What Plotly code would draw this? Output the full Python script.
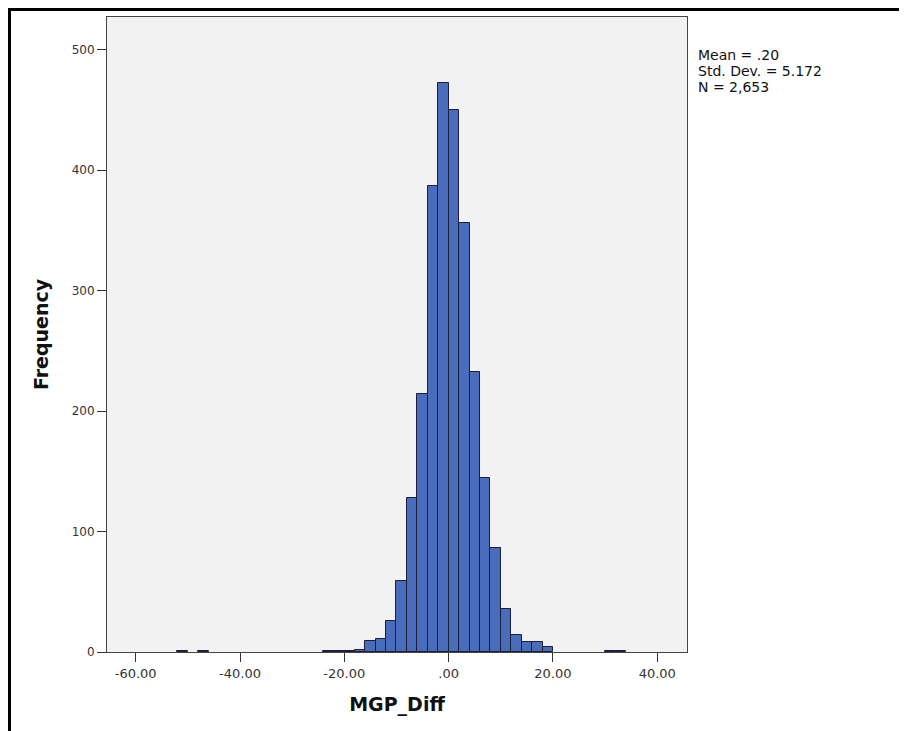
import plotly.graph_objects as go

# Histogram of MGP_Diff, bin width 2 (bin left edges)
bin_left = [-52, -48, -24, -22, -20, -18, -16, -14, -12, -10, -8, -6, -4, -2,
            0, 2, 4, 6, 8, 10, 12, 14, 16, 18, 30, 32]
counts = [1, 1, 1, 1, 1, 2, 9, 11, 26, 59, 128, 214, 387, 472,
          450, 356, 232, 144, 86, 36, 14, 8, 8, 4, 1, 1]
bin_width = 2
x_ticks = [-60, -40, -20, 0, 20, 40]
x_tick_labels = ["-60.00", "-40.00", "-20.00", ".00", "20.00", "40.00"]
y_ticks = [0, 100, 200, 300, 400, 500]
stats_lines = ["Mean = .20", "Std. Dev. = 5.172", "N = 2,653"]

centers = [b + bin_width / 2 for b in bin_left]

fig = go.Figure()
fig.add_trace(go.Bar(
    x=centers, y=counts, width=bin_width,
    marker=dict(color="#4a6cbc", line=dict(color="#1c1f33", width=1)),
    hoverinfo="x+y",
))

# page body has an 8px margin, so the figure is drawn at (8, 8)
W, H = 899, 723
L, T = 99, 9
pw, ph = 580, 635
R, B = W - L - pw, H - T - ph

annotations = []
for i, line in enumerate(stats_lines):
    annotations.append(dict(
        text=line, xref="paper", yref="paper",
        x=(688 - L) / pw, y=1 - (47 + 16 * i - T) / ph,
        xanchor="left", yanchor="middle", align="left", showarrow=False,
        font=dict(family="DejaVu Sans", size=14, color="#111"),
    ))

fig.update_layout(
    width=W, height=H,
    margin=dict(l=L, r=R, t=T, b=B, pad=0),
    paper_bgcolor="white",
    plot_bgcolor="#f2f2f2",
    showlegend=False,
    bargap=0,
    xaxis=dict(
        range=[-65.5, 45.7], tickvals=x_ticks, ticktext=x_tick_labels,
        ticks="outside", ticklen=9, tickcolor="#333", tickwidth=1,
        showgrid=False, zeroline=False, showline=True, linecolor="#444",
        linewidth=1, mirror=True,
        tickfont=dict(family="DejaVu Sans", size=13, color="#333"),
        title=dict(text="<b>MGP_Diff</b>", standoff=18,
                   font=dict(family="DejaVu Sans", size=19, color="#111")),
    ),
    yaxis=dict(
        range=[0, 527], tickvals=y_ticks,
        ticks="outside", ticklen=9, tickcolor="#333", tickwidth=1,
        showgrid=False, zeroline=False, showline=True, linecolor="#444",
        linewidth=1, mirror=True,
        tickfont=dict(family="DejaVu Sans", size=12, color="#333"),
        title=dict(text="<b>Frequency</b>", standoff=18,
                   font=dict(family="DejaVu Sans", size=19, color="#111")),
    ),
    annotations=annotations,
    shapes=[
        dict(type="line", xref="paper", yref="paper",
             x0=(0 - L) / pw, x1=(W - L) / pw,
             y0=1 + (T - 1.5) / ph, y1=1 + (T - 1.5) / ph,
             line=dict(color="black", width=3)),
        dict(type="line", xref="paper", yref="paper",
             x0=(1.5 - L) / pw, x1=(1.5 - L) / pw,
             y0=1 + T / ph, y1=-(B) / ph,
             line=dict(color="black", width=3)),
    ],
)

fig.write_html("out.html")
